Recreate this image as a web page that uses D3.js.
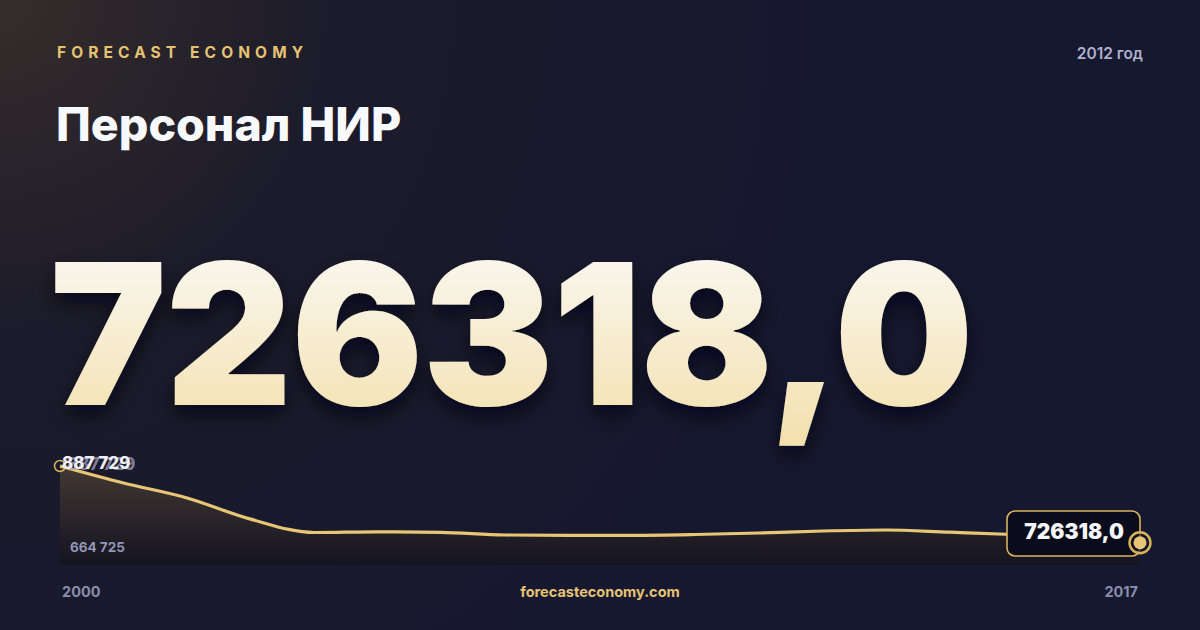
<!DOCTYPE html>
<html><head><meta charset="utf-8">
<script src="https://cdn.jsdelivr.net/npm/d3@7"></script>
<style>
html,body{margin:0;padding:0;background:#15172c;}
svg{display:block;}
</style></head>
<body>
<svg id="c" width="1200" height="630"></svg>
<script>
// ---- data ----
const years = [2000,2001,2002,2003,2004,2005,2006,2007,2008,2009,2010,2011,2012,2013,2014,2015,2016,2017];
const values = [887729,852000,820500,776000,747825,749297,748246,742566,741935,741935,743618,746773,750981,753085,748456,743618,736254,726318];
const yDomain = [664725, 887729];
const brand = "FORECAST ECONOMY";
const title = "Персонал НИР";
const periodLabel = "2012 год";
const headline = "726318,0";
const maxLabel = "887 729";
const minLabel = "664 725";
const site = "forecasteconomy.com";
const xStartLabel = "2000", xEndLabel = "2017";

const svg = d3.select("#c");
const W = 1200, H = 630;
const defs = svg.append("defs");

// background
const bg = defs.append("radialGradient").attr("id","bgGlow").attr("cx","0").attr("cy","0").attr("r","0.7")
  .attr("gradientTransform","scale(1,1.9)");
bg.append("stop").attr("offset","0%").attr("stop-color","#352d2b");
bg.append("stop").attr("offset","40%").attr("stop-color","#1c1b2b");
bg.append("stop").attr("offset","100%").attr("stop-color","#161830");
svg.append("rect").attr("width",W).attr("height",H).attr("fill","#171932");
svg.append("rect").attr("width",W).attr("height",H).attr("fill","url(#bgGlow)");

// text styles
const font = "Inter, 'Noto Sans', sans-serif";
svg.append("text").attr("x",57).attr("y",58).text(brand)
  .attr("font-family",font).attr("font-weight",700).attr("font-size",15.5)
  .attr("letter-spacing","5.1px").attr("fill","#e6c373");
svg.append("text").attr("x",1143).attr("y",59).attr("text-anchor","end").text(periodLabel)
  .attr("font-family",font).attr("font-weight",600).attr("font-size",15.5).attr("fill","#aeb1cb");
svg.append("text").attr("x",56).attr("y",141).text(title)
  .attr("font-family",font).attr("font-weight",800).attr("font-size",46.5).attr("fill","#f8f9fd");

// big number
const ng = defs.append("linearGradient").attr("id","numGrad").attr("x1",0).attr("y1",0).attr("x2",0).attr("y2",1);
ng.append("stop").attr("offset","0%").attr("stop-color","#fbfbfb");
ng.append("stop").attr("offset","100%").attr("stop-color","#f3dfaa");
const sh = defs.append("filter").attr("id","shadow").attr("x","-10%").attr("y","-20%").attr("width","130%").attr("height","150%");
sh.append("feDropShadow").attr("dx",0).attr("dy",10).attr("stdDeviation",10).attr("flood-color","#05060f").attr("flood-opacity",0.7);
svg.append("text").attr("x",50).attr("y",405).text(headline)
  .attr("font-family",font).attr("font-weight",900).attr("font-size",196)
  .attr("letter-spacing","-1px")
  .attr("fill","url(#numGrad)").attr("filter","url(#shadow)");

// chart
const plot = {left:60, right:1140, top:466, bottom:565};
const x = d3.scaleLinear().domain(d3.extent(years)).range([plot.left, plot.right]);
const y = d3.scaleLinear().domain(yDomain).range([plot.bottom+7, plot.top]);
const pts = years.map((yr,i)=>({yr, v:values[i]}));

const ag = defs.append("linearGradient").attr("id","areaGrad").attr("x1",0).attr("y1",0).attr("x2",0).attr("y2",1);
ag.append("stop").attr("offset","0%").attr("stop-color","#453a33").attr("stop-opacity",0.95);
ag.append("stop").attr("offset","100%").attr("stop-color","#141320").attr("stop-opacity",0.95);

const curve = d3.curveMonotoneX;
svg.append("path").datum(pts)
  .attr("d", d3.area().x(d=>x(d.yr)).y0(plot.bottom).y1(d=>y(d.v)).curve(curve))
  .attr("fill","url(#areaGrad)");
svg.append("path").datum(pts)
  .attr("d", d3.line().x(d=>x(d.yr)).y(d=>y(d.v)).curve(curve))
  .attr("fill","none").attr("stroke","#e8c675").attr("stroke-width",3.2).attr("stroke-linejoin","round");

// start marker
svg.append("circle").attr("cx",x(years[0])).attr("cy",y(values[0])).attr("r",5.5)
  .attr("fill","none").attr("stroke","#d9b45a").attr("stroke-width",1.5);

// labels
svg.append("text").attr("x",67).attr("y",470).text(maxLabel)
  .attr("font-family",font).attr("font-weight",800).attr("font-size",17).attr("fill","#9a9cb8").attr("opacity",0.75);
svg.append("text").attr("x",62).attr("y",469).text(maxLabel)
  .attr("font-family",font).attr("font-weight",800).attr("font-size",17).attr("fill","#eeeef4");
svg.append("text").attr("x",70).attr("y",552).text(minLabel)
  .attr("font-family",font).attr("font-weight",700).attr("font-size",13.5).attr("fill","#9396b4");

// end marker + value box
const ex = x(years[years.length-1]), ey = y(values[values.length-1]);
svg.append("rect").attr("x",1007).attr("y",511).attr("width",133).attr("height",45).attr("rx",8)
  .attr("fill","#0b0c1b").attr("stroke","#d9b45a").attr("stroke-width",1.6);
svg.append("text").attr("x",1074).attr("y",539).attr("text-anchor","middle").text(headline)
  .attr("font-family",font).attr("font-weight",900).attr("font-size",21).attr("fill","#f6f6fa");
svg.append("circle").attr("cx",ex).attr("cy",ey).attr("r",10.5)
  .attr("fill","#161728").attr("fill-opacity",0.6).attr("stroke","#d9b45a").attr("stroke-width",2.4);
svg.append("circle").attr("cx",ex).attr("cy",ey).attr("r",6.5).attr("fill","#e8c675");

// x labels and footer
svg.append("text").attr("x",62).attr("y",597).text(xStartLabel)
  .attr("font-family",font).attr("font-weight",700).attr("font-size",14.5).attr("fill","#8a8dab");
svg.append("text").attr("x",1138).attr("y",597).attr("text-anchor","end").text(xEndLabel)
  .attr("font-family",font).attr("font-weight",700).attr("font-size",14.5).attr("fill","#8a8dab");
svg.append("text").attr("x",600).attr("y",597).attr("text-anchor","middle").text(site)
  .attr("font-family",font).attr("font-weight",700).attr("font-size",14.5).attr("fill","#e6c373");
</script>
</body></html>
